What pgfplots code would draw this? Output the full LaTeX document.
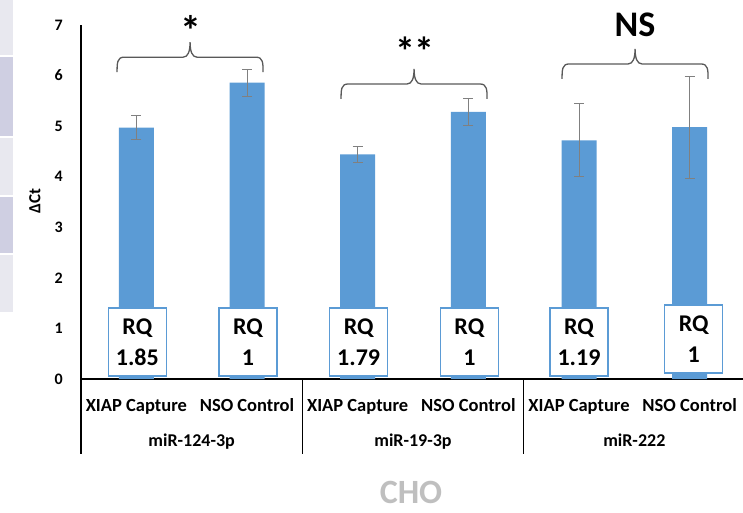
\documentclass[border=0pt]{standalone}
\usepackage{fontspec}
\setmainfont{Carlito}
\usepackage{pgfplots}
\pgfplotsset{compat=1.18}
\definecolor{barblue}{HTML}{5B9BD5}
\definecolor{errgray}{HTML}{808080}
\definecolor{bracegray}{HTML}{595959}
\definecolor{stripA}{HTML}{E8E8EF}
\definecolor{stripB}{HTML}{CFCFE2}
\definecolor{choGray}{HTML}{BFBFBF}
\tikzset{
  rqbox/.style={draw=barblue, line width=1.6pt, fill=white, minimum width=58pt, minimum height=68pt, inner sep=0pt, align=center, font=\fontsize{24}{31}\selectfont\bfseries, anchor=south},
  brc/.style={bracegray, line width=1.3pt},
}
\newcommand{\excelbrace}[1]{%
  \draw[brc] (#1) .. controls +(0,9) and +(-7,0) .. ++(7,15)
     -- ++(59,0)
     .. controls +(5,0) and +(0,-9) .. ++(7,15)
     .. controls +(0,-9) and +(-5,0) .. ++(7,-15)
     -- ++(59,0)
     .. controls +(7,0) and +(0,9) .. ++(7,-15);}
\begin{document}
\begin{tikzpicture}[x=1pt,y=1pt]
\path[use as bounding box] (0,0) rectangle (743,512);
\fill[stripA] (0,512) rectangle (13,457);
\fill[stripB] (0,455) rectangle (13,376);
\fill[stripA] (0,374) rectangle (13,317);
\fill[stripB] (0,315) rectangle (13,259);
\fill[stripA] (0,257) rectangle (13,200);
\begin{axis}[
  at={(81pt,133pt)}, anchor=south west,
  scale only axis, width=664pt, height=354pt,
  xmin=-0.5, xmax=5.5, ymin=0, ymax=7,
  axis x line*=bottom, axis y line*=left,
  axis line style={black, line width=1.2pt},
  ytick={0,...,7},
  xtick={0,...,5},
  xticklabels={XIAP Capture, NSO Control, XIAP Capture, NSO Control, XIAP Capture, NSO Control},
  major tick length=0pt,
  /pgf/number format/assume math mode=true,
  yticklabel style={font=\fontsize{16}{18}\selectfont\bfseries, anchor=east, inner sep=0pt, xshift=-18pt},
  xticklabel style={font=\fontsize{18.5}{22}\selectfont\bfseries, anchor=base, inner sep=0pt, yshift=-32pt},
  ylabel={ΔCt},
  ylabel style={font=\fontsize{17}{19}\selectfont\bfseries, at={(axis description cs:-0.0695,0.503)}, anchor=center},
  clip=false,
  ybar, bar width=35pt,
]
\addplot[fill=barblue, draw=none,
  error bars/.cd, y dir=both, y explicit,
  error bar style={errgray, line width=1pt},
  error mark options={rotate=90, errgray, mark size=5pt, line width=1pt}]
  table[x=x, y=y, y error=e] {
x y e
0 4.97 0.24
1 5.86 0.27
2 4.44 0.16
3 5.28 0.27
4 4.72 0.72
5 4.98 1.01
};
% RQ boxes
\node[rqbox, xshift=1pt, yshift=2pt] at (axis cs:0,0) {RQ\\1.85};
\node[rqbox, xshift=1pt, yshift=2pt] at (axis cs:1,0) {RQ\\1};
\node[rqbox, xshift=1pt, yshift=2pt] at (axis cs:2,0) {RQ\\1.79};
\node[rqbox, xshift=1pt, yshift=2pt] at (axis cs:3,0) {RQ\\1};
\node[rqbox, xshift=0pt, yshift=2pt] at (axis cs:4,0) {RQ\\1.19};
\node[rqbox, xshift=4pt, yshift=5pt] at (axis cs:5,0) {RQ\\1};
% separators below the axis
\draw[black, line width=1.2pt] (axis cs:-0.5,0) -- ([yshift=-75pt]axis cs:-0.5,0);
\draw[black, line width=1.2pt] (axis cs:1.5,0) -- ([yshift=-75pt]axis cs:1.5,0);
\draw[black, line width=1.2pt] (axis cs:3.5,0) -- ([yshift=-75pt]axis cs:3.5,0);
% group labels
\node[anchor=base, inner sep=0pt, font=\fontsize{18}{20}\selectfont\bfseries, yshift=-67pt] at (axis cs:0.5,0) {miR-124-3p};
\node[anchor=base, inner sep=0pt, font=\fontsize{18}{20}\selectfont\bfseries, yshift=-67pt] at (axis cs:2.5,0) {miR-19-3p};
\node[anchor=base, inner sep=0pt, font=\fontsize{18}{20}\selectfont\bfseries, yshift=-67pt] at (axis cs:4.5,0) {miR-222};
% brace anchors
\coordinate (b1) at (axis cs:-0.174,6.067);
\coordinate (b2) at (axis cs:1.850,5.537);
\coordinate (b3) at (axis cs:3.847,5.933);
% significance marks
\node[anchor=north, inner sep=0pt, font=\fontsize{42}{44}\selectfont\bfseries] at (axis cs:0.496,7.198) {*};
\node[anchor=north, inner sep=0pt, font=\fontsize{40}{44}\selectfont\bfseries] at (axis cs:2.518,6.763) {**};
\node[anchor=north, inner sep=0pt, font=\fontsize{36}{40}\selectfont\bfseries] at (axis cs:4.506,7.237) {NS};
\end{axis}
\excelbrace{b1}
\excelbrace{b2}
\excelbrace{b3}
\node[choGray, font=\fontsize{34}{38}\selectfont\bfseries, inner sep=0pt, anchor=base] at (411,9) {CHO};
\end{tikzpicture}
\end{document}
